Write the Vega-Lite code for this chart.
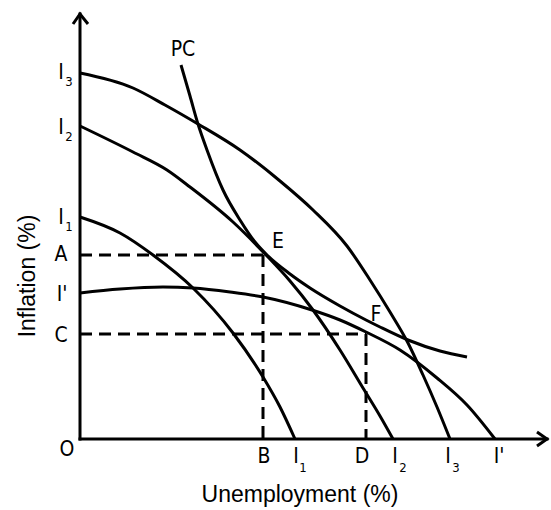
{
  "$schema": "https://vega.github.io/schema/vega-lite/v6.json",
  "width": 468,
  "height": 426,
  "autosize": {"type": "none"},
  "padding": {"left": 80, "top": 13, "right": 3, "bottom": 71},
  "background": "white",
  "config": {"view": {"stroke": null}},
  "layer": [
    {
      "data": {"values": [
        {"curve": "I3", "x": 0, "y": 366}, {"curve": "I3", "x": 53, "y": 351}, {"curve": "I3", "x": 85, "y": 334}, {"curve": "I3", "x": 118, "y": 315}, {"curve": "I3", "x": 160, "y": 289}, {"curve": "I3", "x": 200, "y": 258}, {"curve": "I3", "x": 233, "y": 229}, {"curve": "I3", "x": 267, "y": 193}, {"curve": "I3", "x": 290, "y": 159}, {"curve": "I3", "x": 310, "y": 127}, {"curve": "I3", "x": 328, "y": 96}, {"curve": "I3", "x": 343, "y": 64}, {"curve": "I3", "x": 357, "y": 32}, {"curve": "I3", "x": 370, "y": 0},
        {"curve": "I2", "x": 0, "y": 313}, {"curve": "I2", "x": 53, "y": 287}, {"curve": "I2", "x": 87, "y": 269}, {"curve": "I2", "x": 110, "y": 252}, {"curve": "I2", "x": 153, "y": 217}, {"curve": "I2", "x": 187, "y": 183}, {"curve": "I2", "x": 210, "y": 158}, {"curve": "I2", "x": 233, "y": 129}, {"curve": "I2", "x": 260, "y": 89}, {"curve": "I2", "x": 283, "y": 51}, {"curve": "I2", "x": 300, "y": 23}, {"curve": "I2", "x": 313, "y": 0},
        {"curve": "I1", "x": 0, "y": 222}, {"curve": "I1", "x": 40, "y": 206}, {"curve": "I1", "x": 73, "y": 184}, {"curve": "I1", "x": 113, "y": 151}, {"curve": "I1", "x": 153, "y": 106}, {"curve": "I1", "x": 183, "y": 62}, {"curve": "I1", "x": 200, "y": 32}, {"curve": "I1", "x": 215, "y": 0},
        {"curve": "Ip", "x": 0, "y": 146}, {"curve": "Ip", "x": 40, "y": 150}, {"curve": "Ip", "x": 83, "y": 152}, {"curve": "Ip", "x": 113, "y": 151}, {"curve": "Ip", "x": 150, "y": 147}, {"curve": "Ip", "x": 183, "y": 142}, {"curve": "Ip", "x": 232, "y": 129}, {"curve": "Ip", "x": 260, "y": 119}, {"curve": "Ip", "x": 286, "y": 107}, {"curve": "Ip", "x": 320, "y": 89}, {"curve": "Ip", "x": 357, "y": 61}, {"curve": "Ip", "x": 387, "y": 34}, {"curve": "Ip", "x": 415, "y": 0},
        {"curve": "PC", "x": 101, "y": 374}, {"curve": "PC", "x": 110, "y": 343}, {"curve": "PC", "x": 118, "y": 315}, {"curve": "PC", "x": 127, "y": 289}, {"curve": "PC", "x": 143, "y": 249}, {"curve": "PC", "x": 160, "y": 219}, {"curve": "PC", "x": 175, "y": 197}, {"curve": "PC", "x": 187, "y": 184}, {"curve": "PC", "x": 210, "y": 165}, {"curve": "PC", "x": 230, "y": 151}, {"curve": "PC", "x": 260, "y": 133}, {"curve": "PC", "x": 286, "y": 119}, {"curve": "PC", "x": 300, "y": 112}, {"curve": "PC", "x": 328, "y": 99}, {"curve": "PC", "x": 360, "y": 88}, {"curve": "PC", "x": 387, "y": 82}
      ]},
      "mark": {"type": "line", "color": "black", "strokeWidth": 3, "interpolate": "monotone", "clip": false},
      "encoding": {
        "x": {"field": "x", "type": "quantitative", "scale": {"domain": [0, 468], "nice": false, "zero": false}, "axis": null},
        "y": {"field": "y", "type": "quantitative", "scale": {"domain": [0, 426], "nice": false, "zero": false}, "axis": null},
        "detail": {"field": "curve"}
      }
    },
    {
      "data": {"values": [
        {"x": 0, "y": 0, "x2": 467, "y2": 0},
        {"x": 0, "y": 0, "x2": 0, "y2": 425}
      ]},
      "mark": {"type": "rule", "color": "black", "strokeWidth": 3, "strokeCap": "square"},
      "encoding": {
        "x": {"field": "x", "type": "quantitative"},
        "y": {"field": "y", "type": "quantitative"},
        "x2": {"field": "x2"},
        "y2": {"field": "y2"}
      }
    },
    {
      "data": {"values": [
        {"a": "x", "o": 1, "x": 457, "y": 7}, {"a": "x", "o": 2, "x": 467, "y": 0}, {"a": "x", "o": 3, "x": 457, "y": -7},
        {"a": "y", "o": 1, "x": -7, "y": 415}, {"a": "y", "o": 2, "x": 0, "y": 425}, {"a": "y", "o": 3, "x": 8, "y": 415}
      ]},
      "mark": {"type": "line", "color": "black", "strokeWidth": 3, "strokeJoin": "miter", "clip": false},
      "encoding": {
        "x": {"field": "x", "type": "quantitative"},
        "y": {"field": "y", "type": "quantitative"},
        "detail": {"field": "a"},
        "order": {"field": "o"}
      }
    },
    {
      "data": {"values": [
        {"x": 0, "y": 184, "x2": 183, "y2": 184},
        {"x": 183, "y": 184, "x2": 183, "y2": 0},
        {"x": 0, "y": 105, "x2": 286, "y2": 105},
        {"x": 286, "y": 105, "x2": 286, "y2": 0}
      ]},
      "mark": {"type": "rule", "color": "black", "strokeWidth": 3, "strokeDash": [12, 7]},
      "encoding": {
        "x": {"field": "x", "type": "quantitative"},
        "y": {"field": "y", "type": "quantitative"},
        "x2": {"field": "x2"},
        "y2": {"field": "y2"}
      }
    },
    {
      "data": {"values": [
        {"x": -19, "y": 366, "t": "I"},
        {"x": -19, "y": 311, "t": "I"},
        {"x": -19, "y": 221, "t": "I"},
        {"x": -19, "y": 184, "t": "A"},
        {"x": -18, "y": 144, "t": "I'"},
        {"x": -19, "y": 103, "t": "C"},
        {"x": -13, "y": -11, "t": "O"},
        {"x": 184, "y": -18, "t": "B"},
        {"x": 216, "y": -18, "t": "I"},
        {"x": 282, "y": -18, "t": "D"},
        {"x": 315, "y": -18, "t": "I"},
        {"x": 368, "y": -18, "t": "I"},
        {"x": 419, "y": -18, "t": "I'"},
        {"x": 103, "y": 389, "t": "PC"},
        {"x": 198, "y": 197, "t": "E"},
        {"x": 296, "y": 124, "t": "F"}
      ]},
      "mark": {"type": "text", "fontSize": 21, "font": "Liberation Sans Narrow, DejaVu Sans Condensed, Liberation Sans", "align": "center", "baseline": "middle", "color": "black"},
      "encoding": {
        "x": {"field": "x", "type": "quantitative"},
        "y": {"field": "y", "type": "quantitative"},
        "text": {"field": "t"}
      }
    },
    {
      "data": {"values": [
        {"x": -11, "y": 357, "t": "3"},
        {"x": -11, "y": 302, "t": "2"},
        {"x": -11, "y": 212, "t": "1"},
        {"x": 223, "y": -29, "t": "1"},
        {"x": 323, "y": -29, "t": "2"},
        {"x": 376, "y": -29, "t": "3"}
      ]},
      "mark": {"type": "text", "fontSize": 13, "font": "Liberation Sans Narrow, DejaVu Sans Condensed, Liberation Sans", "align": "center", "baseline": "middle", "color": "black"},
      "encoding": {
        "x": {"field": "x", "type": "quantitative"},
        "y": {"field": "y", "type": "quantitative"},
        "text": {"field": "t"}
      }
    },
    {
      "data": {"values": [{"x": 220, "y": -56, "t": "Unemployment (%)"}]},
      "mark": {"type": "text", "fontSize": 23, "font": "Liberation Sans", "align": "center", "baseline": "middle", "color": "black"},
      "encoding": {
        "x": {"field": "x", "type": "quantitative"},
        "y": {"field": "y", "type": "quantitative"},
        "text": {"field": "t"}
      }
    },
    {
      "data": {"values": [{"x": -52, "y": 163, "t": "Inflation (%)"}]},
      "mark": {"type": "text", "fontSize": 23, "font": "Liberation Sans", "align": "center", "baseline": "middle", "angle": 270, "color": "black"},
      "encoding": {
        "x": {"field": "x", "type": "quantitative"},
        "y": {"field": "y", "type": "quantitative"},
        "text": {"field": "t"}
      }
    }
  ]
}
